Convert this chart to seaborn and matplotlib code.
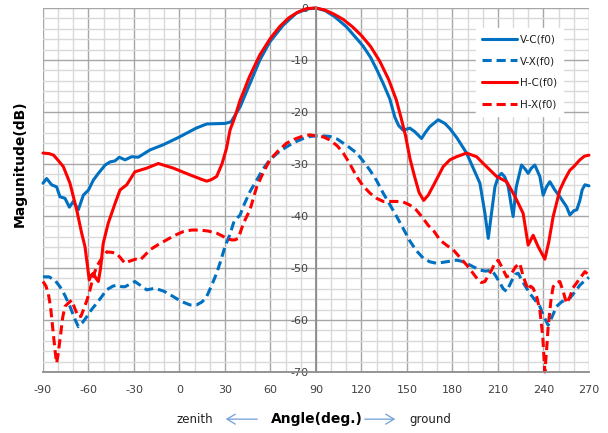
import numpy as np
import pandas as pd
import matplotlib
matplotlib.use("Agg")
import matplotlib.pyplot as plt
import seaborn as sns
from matplotlib.ticker import MultipleLocator

# V-C(f0) : co-polar, vertical
vc_angle = [-90, -87.6, -84.3, -81, -78.8, -75.5, -72.6, -70, -66.7, -63.4, -60, -56.8, -53.5, -49,
            -45.8, -42.5, -39.7, -35.9, -31.5, -27.2, -19.5, -10.7, 0, 11, 18, 30, 34, 40, 46.5, 53,
            59.6, 68.4, 77, 84, 90, 96, 102, 110, 116, 121, 126, 130, 134.3, 138.7, 142, 144.5,
            147.5, 151.9, 155.2, 159.6, 162, 165.1, 170.6, 175, 178.3, 183, 189.3, 194, 198.1,
            201.4, 203.6, 205.5, 208, 210.2, 212.4, 214.5, 216.8, 218.5, 220, 222, 225.5, 228,
            229.9, 232, 234.3, 237.6, 239.8, 242, 244.2, 247.5, 250.8, 255.2, 257.4, 260, 262,
            264, 265.5, 267.3, 270]
vc_db = [-33.7, -32.8, -34.0, -34.4, -36.3, -36.6, -38.3, -37.2, -38.8, -36.0, -35.0, -33.1, -31.8,
         -30.2, -29.6, -29.4, -28.7, -29.2, -28.6, -28.7, -27.3, -26.3, -24.8, -23.1, -22.3, -22.2,
         -21.9, -19.0, -14.5, -10.0, -6.5, -3.3, -1.0, -0.2, 0, -0.5, -1.6, -3.6, -5.6, -7.3, -9.5,
         -11.8, -14.5, -17.5, -21.0, -22.6, -23.5, -23.1, -23.8, -25.1, -24.0, -22.8, -21.5, -22.2,
         -23.2, -25.0, -27.9, -31.0, -33.7, -39.5, -44.3, -40.0, -34.4, -32.4, -31.8, -32.5, -34.4,
         -37.5, -40.1, -34.5, -30.2, -31.0, -31.8, -30.8, -30.2, -32.4, -36.0, -34.4, -33.4, -35.0,
         -36.3, -38.2, -39.8, -39.0, -38.8, -37.0, -35.0, -34.0, -34.2]

# V-X(f0) : cross-polar, vertical
vx_angle = [-90, -86, -82, -78.8, -75.5, -72.2, -69, -66.7, -64, -61.2, -58, -54.6, -51, -48, -44,
            -41.4, -38, -35.9, -32, -29.4, -25, -21.6, -16.2, -10, -4.1, 1, 6.9, 11.3, 15, 17.9, 21,
            24.5, 27, 30, 33.3, 36, 40, 42, 46.5, 50.9, 55, 59.6, 65, 70.6, 76, 81.6, 86, 90, 95,
            99.2, 104, 108, 112, 116.8, 121, 125.6, 130, 134.3, 138.7, 143.2, 147.5, 151.9, 156,
            160.7, 165, 169.5, 176, 182.7, 186, 189.3, 194, 198.1, 202, 205.8, 208.5, 211.3, 213.5,
            215.7, 219, 221.5, 223.3, 226, 231, 234, 237.6, 240.5, 243.1, 245.5, 248.6, 252, 257.4,
            261, 264, 267, 270]
vx_db = [-51.7, -51.7, -52.4, -53.6, -55.3, -57.4, -59.8, -61.3, -60.5, -59.4, -58.0, -56.8, -55.4,
         -54.2, -53.5, -53.3, -53.6, -53.6, -53.0, -52.6, -53.5, -54.2, -53.9, -54.5, -55.5, -56.4,
         -57.1, -57.1, -56.5, -55.5, -53.5, -51.0, -48.8, -45.9, -43.5, -41.0, -39.8, -38.2, -35.3,
         -33.1, -31.0, -29.2, -27.8, -26.7, -25.8, -25.1, -24.7, -24.6, -24.6, -24.7, -25.2, -26.0,
         -26.8, -27.9, -29.4, -31.2, -33.2, -35.6, -37.8, -40.1, -42.4, -44.8, -46.6, -48.1, -48.8,
         -49.1, -48.8, -48.5, -48.7, -49.1, -49.8, -50.4, -50.6, -50.4, -51.5, -52.9, -54.0, -54.5,
         -52.5, -51.2, -51.0, -52.5, -54.9, -56.0, -57.4, -59.5, -61.0, -59.5, -57.4, -56.5, -55.8,
         -54.5, -53.3, -52.5, -51.8]

# H-C(f0) : co-polar, horizontal
hc_angle = [-90, -86, -83, -80, -76.6, -72.2, -67.8, -64.5, -62.3, -60.5, -59.5, -58.5, -56.8, -55,
            -53.5, -52, -50.3, -47, -42.5, -39.2, -34.8, -29.4, -25, -21.6, -14, -4, 7, 15, 18, 21,
            24.5, 28, 31, 33.3, 36.6, 40, 42, 46, 53, 60, 66, 72, 78, 84, 90, 96, 102, 108, 114,
            120, 126, 132, 138, 143, 146, 149, 152, 155, 158, 161, 164, 167.3, 173.9, 178.3, 182.7,
            189.3, 195.9, 200.3, 209.1, 215.7, 220, 222.3, 226.6, 229.9, 233.2, 236.5, 240.9, 243.5,
            246.4, 250.8, 254, 257.4, 260, 264, 267, 270]
hc_db = [-27.9, -28.0, -28.3, -29.3, -30.5, -33.7, -38.8, -43.3, -45.9, -50.0, -52.3, -51.5, -51.0,
         -52.0, -52.6, -50.0, -45.3, -41.4, -37.6, -35.0, -34.0, -31.5, -31.1, -30.8, -29.9, -30.8,
         -32.1, -33.0, -33.3, -33.0, -32.4, -30.0, -27.0, -23.5, -20.9, -17.7, -16.3, -13.3, -9.0,
         -5.8, -3.6, -1.9, -0.8, -0.1, 0, -0.4, -1.2, -2.2, -3.6, -5.3, -7.4, -10.2, -13.8, -17.7,
         -21.0, -24.5, -29.0, -32.4, -35.5, -37.0, -36.0, -34.2, -30.5, -29.2, -28.6, -27.9, -28.6,
         -29.9, -32.4, -33.4, -35.6, -36.9, -39.5, -45.6, -43.7, -45.9, -48.3, -45.0, -40.1, -35.0,
         -33.0, -31.2, -30.5, -29.2, -28.5, -28.3]

# H-X(f0) : cross-polar, horizontal
hx_angle = [-90, -88, -86.5, -85, -83.2, -82, -81, -80, -78.3, -77, -75.5, -73.5, -71.1, -69, -66.7,
            -65, -63.4, -61, -59, -57, -54.6, -51, -48, -44.5, -41.4, -38.5, -35.9, -33, -29, -26.1,
            -23, -19.5, -14, -8.5, -3, 2.5, 8, 13.5, 19, 24.5, 28, 31, 34.4, 36.5, 38.8, 42, 46.5,
            50.9, 55, 59.6, 65, 70.6, 76, 81.6, 86, 90, 95, 99.2, 104, 108, 112, 116.8, 121, 125.6,
            130, 134.3, 139, 143.2, 147.5, 151.9, 156, 160, 164, 167.3, 171.7, 176, 180.5, 185,
            189.3, 193, 196.9, 199, 201.4, 203.5, 205.8, 208, 210.2, 212.5, 215.7, 218.5, 221.5,
            224.4, 226.5, 229.9, 231.5, 233.2, 235.5, 237.6, 239.5, 240.9, 242, 243.1, 245, 246.4,
            248.5, 250.8, 253, 255.2, 257.5, 259.5, 261.8, 264.5, 267.3, 268.5, 270]
hx_db = [-52.6, -53.5, -54.9, -57.5, -62.6, -66.0, -68.3, -66.5, -62.6, -59.5, -57.4, -56.8, -56.2,
         -57.8, -59.4, -59.3, -58.1, -56.2, -54.2, -51.8, -49.7, -48.0, -46.9, -47.0, -47.2, -48.2,
         -49.1, -48.7, -48.3, -48.5, -47.6, -46.5, -45.5, -44.6, -43.7, -43.0, -42.7, -42.7, -42.9,
         -43.3, -43.8, -44.3, -44.6, -44.6, -44.3, -41.5, -38.8, -34.4, -31.8, -29.2, -27.5, -26.0,
         -25.2, -24.6, -24.4, -24.6, -24.8, -25.4, -26.5, -27.9, -29.8, -32.4, -34.2, -35.6, -36.6,
         -37.2, -37.2, -37.2, -37.3, -37.9, -38.8, -40.2, -41.8, -42.7, -44.6, -45.6, -46.5, -48.0,
         -49.4, -50.8, -52.3, -52.8, -52.6, -51.5, -50.4, -49.0, -48.5, -49.8, -51.7, -51.3, -49.8,
         -49.1, -51.5, -54.2, -53.5, -53.9, -55.5, -58.1, -63.0, -70.0, -66.0, -61.3, -56.0, -53.6,
         -52.8, -52.6, -54.5, -56.8, -55.5, -53.8, -52.9, -51.8, -50.7, -51.0, -51.5]

blue = "#0070C0"
red = "#FF0000"

sns.set_style("white")
plt.rcParams["font.family"] = ["DejaVu Sans"]
plt.rcParams["axes.unicode_minus"] = False

fig = plt.figure(figsize=(6.08, 4.33), dpi=100)
ax = fig.add_axes([0.0707, 0.1409, 0.898, 0.8406])

dash = (0, (3.0, 1.6))
sns.lineplot(x=vc_angle, y=vc_db, ax=ax, color=blue, lw=2.2, sort=False, estimator=None, label="V-C(f0)")
sns.lineplot(x=vx_angle, y=vx_db, ax=ax, color=blue, lw=2.2, sort=False, estimator=None,
             linestyle=dash, label="V-X(f0)")
sns.lineplot(x=hc_angle, y=hc_db, ax=ax, color=red, lw=2.2, sort=False, estimator=None, label="H-C(f0)")
sns.lineplot(x=hx_angle, y=hx_db, ax=ax, color=red, lw=2.2, sort=False, estimator=None,
             linestyle=dash, label="H-X(f0)")
for ln in ax.get_lines():
    ln.set_dash_capstyle("butt")
    ln.set_solid_joinstyle("round")
    ln.set_clip_on(False)

ax.set_xlim(-90, 270)
ax.set_ylim(-70, 0)
ax.xaxis.set_major_locator(MultipleLocator(30))
ax.xaxis.set_minor_locator(MultipleLocator(10))
ax.yaxis.set_major_locator(MultipleLocator(10))
ax.yaxis.set_minor_locator(MultipleLocator(2))

ax.grid(which="major", color="#a6a6a6", lw=1.0)
ax.grid(which="minor", color="#d9d9d9", lw=1.0)
ax.set_axisbelow(True)

# vertical axis crosses at 90 deg, like the original sheet
ax.spines["left"].set_position(("data", 90))
ax.spines["left"].set_color("#8c8c8c")
ax.spines["bottom"].set_color("#8c8c8c")
ax.spines["left"].set_linewidth(1.3)
ax.spines["bottom"].set_linewidth(1.3)
ax.spines["top"].set_visible(False)
ax.spines["right"].set_visible(False)
ax.tick_params(which="major", direction="out", length=3.5, width=1, color="#8c8c8c",
               labelsize=8, labelcolor="#404040", pad=2)
ax.tick_params(axis="x", which="major", pad=6)
ax.tick_params(which="minor", length=0)
ax.set_xlabel("")
ax.set_ylabel("")

leg = ax.legend(loc="upper left", bbox_to_anchor=(0.793, 0.945), borderaxespad=0, fontsize=7.5,
                handlelength=3.3, handletextpad=0.3, labelspacing=1.13, borderpad=0.6,
                frameon=True, fancybox=False, labelcolor="#202020")
leg.get_frame().set_facecolor("white")
leg.get_frame().set_edgecolor("white")
leg.get_frame().set_alpha(1)

fig.text(0.033, 0.623, "Magunitude(dB)", rotation=90, ha="center", va="center",
         fontsize=10, fontweight="bold", color="#000000")
fig.text(195 / 608, 0.032, "zenith", ha="center", va="center", fontsize=8.5, color="#202020")
fig.text(317 / 608, 0.032, "Angle(deg.)", ha="center", va="center", fontsize=10,
         fontweight="bold", color="#000000")
fig.text(430 / 608, 0.032, "ground", ha="center", va="center", fontsize=8.5, color="#202020")
arrow = dict(arrowstyle="->,head_length=0.5,head_width=0.3", color="#6f9fd8", lw=0.9,
             mutation_scale=12)
fig.add_artist(matplotlib.patches.FancyArrowPatch((260 / 608, 0.032), (223 / 608, 0.032),
                                                  transform=fig.transFigure, **arrow))
fig.add_artist(matplotlib.patches.FancyArrowPatch((362 / 608, 0.032), (398 / 608, 0.032),
                                                  transform=fig.transFigure, **arrow))

fig.savefig("out.png", dpi=100)
